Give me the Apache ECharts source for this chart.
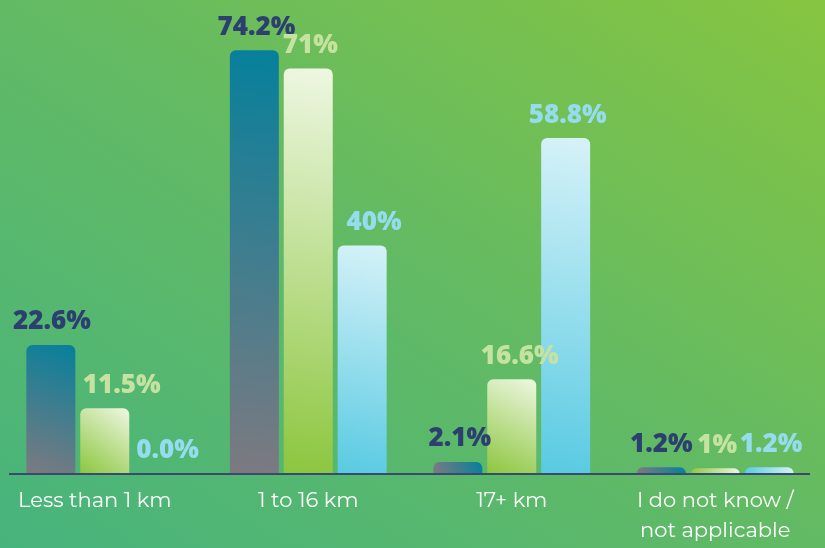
<!DOCTYPE html>
<html>
<head>
<meta charset="utf-8">
<script src="https://cdn.jsdelivr.net/npm/echarts@6/dist/echarts.min.js"></script>
<style>
html,body{margin:0;padding:0;}
body{width:825px;height:548px;background:linear-gradient(to top right,#47b47d 0%,#62ba64 50%,#86c540 100%);}
#c{width:825px;height:548px;}
</style>
</head>
<body>
<div id="c"></div>
<script>
var categories = ['Less than 1 km', '1 to 16 km', '17+ km', 'I do not know /\nnot applicable'];
var seriesA = [22.6, 74.2, 2.1, 1.2];
var seriesB = [11.5, 71, 16.6, 1];
var seriesC = [0.0, 40, 58.8, 1.2];
var labelsA = ['22.6%', '74.2%', '2.1%', '1.2%'];
var labelsB = ['11.5%', '71%', '16.6%', '1%'];
var labelsC = ['0.0%', '40%', '58.8%', '1.2%'];

// horizontal nudges of the value labels (styling only)
var nudgeA = [1, 2, 2, 0];
var nudgeB = [17, 2, 8, 2];
var nudgeC = [9, 12, 2, 2];

function grad(c1, c2) {
  return new echarts.graphic.LinearGradient(1, 0, 0, 1, [
    {offset: 0, color: c1}, {offset: 1, color: c2}
  ]);
}
function mkSeries(vals, labels, nudge, c1, c2, lc) {
  return {
    type: 'bar',
    data: vals.map(function (v, i) {
      return {value: v, label: {offset: [nudge[i], 0]}};
    }),
    barWidth: 49,
    barGap: '10%',
    itemStyle: {color: grad(c1, c2), borderRadius: [6, 6, 0, 0]},
    label: {
      show: true,
      position: 'top',
      distance: 9,
      formatter: function (p) { return labels[p.dataIndex]; },
      color: lc,
      fontFamily: 'Open Sans',
      fontWeight: 800,
      fontSize: 26,
      lineHeight: 28
    }
  };
}
var chart = echarts.init(document.getElementById('c'));
chart.setOption({
  backgroundColor: 'transparent',
  animation: false,
  grid: {left: 3, right: 8, top: 17, bottom: 74, containLabel: false},
  xAxis: {
    type: 'category',
    data: categories.map(function (c, i) {
      return i === 0 ? {value: c, textStyle: {padding: [0, 20, 0, 0]}} : c;
    }),
    axisLine: {show: false},
    axisTick: {show: false},
    axisLabel: {
      color: '#ffffff',
      fontFamily: 'Montserrat, Open Sans, sans-serif',
      fontSize: 21,
      lineHeight: 30,
      margin: 12,
      interval: 0
    }
  },
  yAxis: {type: 'value', min: 0, max: 80, show: false, splitLine: {show: false}},
  graphic: [{
    type: 'line',
    shape: {x1: 9, y1: 474, x2: 810, y2: 474},
    style: {stroke: '#3a4a6e', lineWidth: 2},
    z: 10
  }],
  series: [
    mkSeries(seriesA, labelsA, nudgeA, '#06809c', '#7d7a80', '#2d3f6f'),
    mkSeries(seriesB, labelsB, nudgeB, '#eef7e2', '#8cc63e', '#c5e2a0'),
    mkSeries(seriesC, labelsC, nudgeC, '#d6f2f8', '#58cae2', '#94dcee')
  ]
});
</script>
</body>
</html>
